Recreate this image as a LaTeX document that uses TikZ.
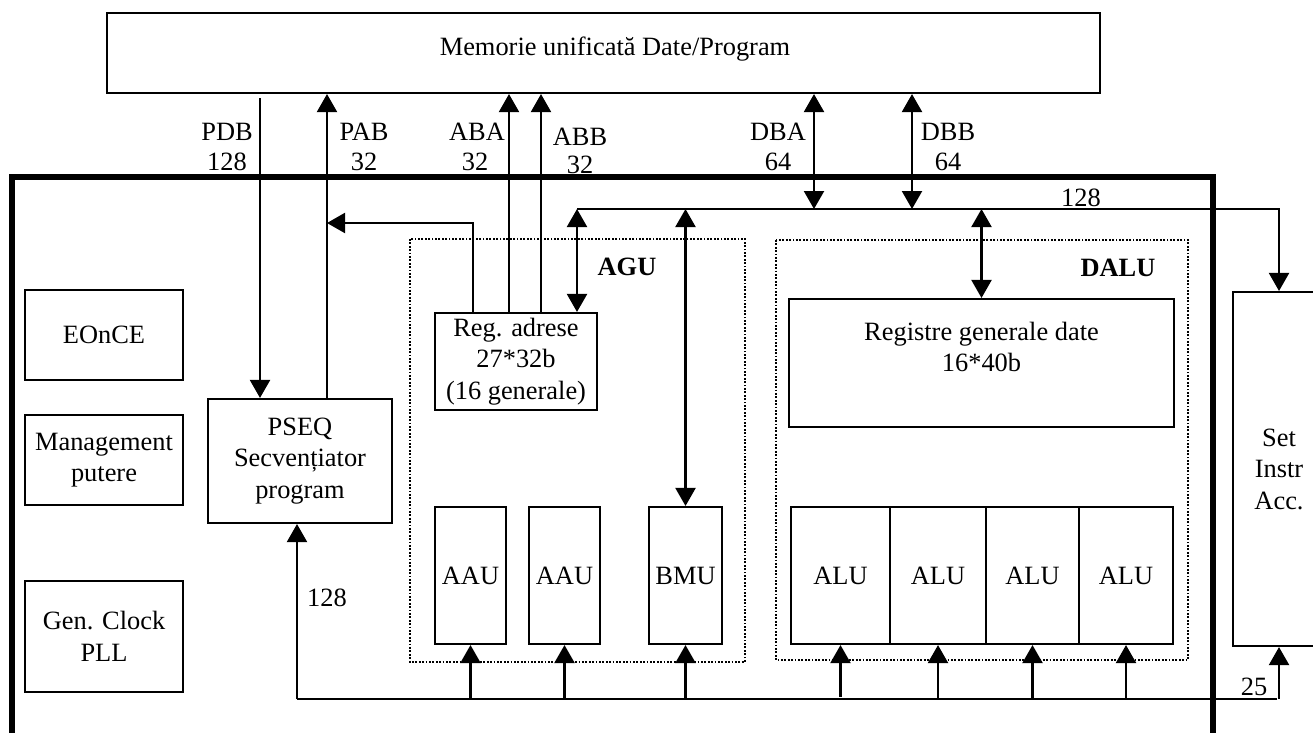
\documentclass[tikz,border=0pt]{standalone}
\usepackage{fontspec}
\setmainfont{Liberation Serif}
\usetikzlibrary{arrows.meta}
\begin{document}
\begin{tikzpicture}[x=1pt,y=-1pt,
  font=\fontsize{26.4}{31.5}\selectfont,
  ln/.style={line width=2.1pt},
  box/.style={draw,line width=2.1pt,inner sep=0pt,align=center},
  dotbox/.style={draw,line width=1.8pt,dash pattern=on 1.8pt off 1.6pt},
  tip/.tip={Triangle[width=20pt,length=18pt]},
  arr/.style={ln,-tip},
  darr/.style={ln,tip-tip},
  lbl/.style={inner sep=0pt},
  frame/.style={line width=6pt}
]
\useasboundingbox (0,0) rectangle (1313,732);

% memory
\node[box,minimum width=993pt,minimum height=80pt] (mem) at (603.5,53) {};
\node[lbl] (memtxt) at (615,49) {Memorie unificată Date/Program};

% thick frame
\draw[frame] (12,745) -- (12,177) -- (1213,177) -- (1213,745);

% left boxes
\node[box,minimum width=158pt,minimum height=90pt] (eonce) at (104,335) {EOnCE};
\node[box,minimum width=158pt,minimum height=90pt] (mgmt) at (104,460) {Management\\putere};
\node[box,minimum width=158pt,minimum height=111pt] (clk) at (104,636.5) {Gen. Clock\\PLL};

% PSEQ
\node[box,minimum width=184pt,minimum height=124pt] (pseq) at (300,461) {PSEQ\\Secvențiator\\program};

% AGU
\draw[dotbox] (410,239) rectangle (745,662);
\node[lbl,font=\fontsize{26.4}{31.5}\selectfont\bfseries] (agu) at (627,267) {AGU};
\node[box,minimum width=162pt,minimum height=97pt] (regadr) at (516,361.5) {Reg. adrese\\27*32b\\(16 generale)};
\node[box,minimum width=71pt,minimum height=137pt] (aau1) at (470.5,575.5) {AAU};
\node[box,minimum width=71pt,minimum height=137pt] (aau2) at (564.5,575.5) {AAU};
\node[box,minimum width=73pt,minimum height=137pt] (bmu) at (685.5,575.5) {BMU};

% DALU
\draw[dotbox] (776,240) rectangle (1188,660);
\node[lbl,font=\fontsize{26.4}{31.5}\selectfont\bfseries] (dalu) at (1118,268) {DALU};
\node[box,minimum width=385pt,minimum height=128pt] (regd) at (981.5,363) {};
\node[lbl,align=center] (regdtxt) at (981.5,347) {Registre generale date\\16*40b};
\node[box,minimum width=99pt,minimum height=137pt] (alu1) at (840.5,575.5) {ALU};
\node[box,minimum width=96pt,minimum height=137pt] (alu2) at (938,575.5) {ALU};
\node[box,minimum width=93pt,minimum height=137pt] (alu3) at (1032.5,575.5) {ALU};
\node[box,minimum width=94pt,minimum height=137pt] (alu4) at (1126,575.5) {ALU};

% Set instr
\node[box,minimum width=92pt,minimum height=354pt] (set) at (1279,469) {Set\\Instr\\Acc.};

% coordinates
\coordinate (xPDB) at (260,0);
\coordinate (xPAB) at (327,0);
\coordinate (xABA) at (509,0);
\coordinate (xABB) at (541,0);
\coordinate (xDBA) at (814,0);
\coordinate (xDBB) at (912,0);
\coordinate (turn) at (473,223);
\coordinate (tbL) at (577,209);
\coordinate (bbL) at (297,699);
\coordinate (bbR) at (1277,699);

% buses to memory
\draw[arr,shorten <=4pt] (mem.south -| xPDB) -- (pseq.north -| xPDB);
\draw[arr] (pseq.north -| xPAB) -- (mem.south -| xPAB);
\draw[arr] (regadr.north -| xABA) -- (mem.south -| xABA);
\draw[arr] (regadr.north -| xABB) -- (mem.south -| xABB);
\draw[arr] (regadr.north -| turn) -- (turn) -- (turn -| xPAB);
\draw[darr] (mem.south -| xDBA) -- (tbL -| xDBA);
\draw[darr] (mem.south -| xDBB) -- (tbL -| xDBB);

% internal data bus
\draw[arr] (tbL) -- (set.north |- tbL) -- (set.north);
\draw[darr] (tbL) -- (regadr.north -| tbL);
\draw[darr] (bmu.north |- tbL) -- (bmu.north);
\draw[darr] (regd.north |- tbL) -- (regd.north);

% bottom bus
\draw[ln] (bbL) -- (bbR);
\draw[arr] (bbL) -- (pseq.south -| bbL);
\draw[arr] (aau1.south |- bbL) -- (aau1.south);
\draw[arr] (aau2.south |- bbL) -- (aau2.south);
\draw[arr] (bmu.south |- bbL) -- (bmu.south);
\draw[arr,shorten <=2pt] (alu1.south |- bbL) -- (alu1.south);
\draw[arr] (alu2.south |- bbL) -- (alu2.south);
\draw[arr] (alu3.south |- bbL) -- (alu3.south);
\draw[arr] (alu4.south |- bbL) -- (alu4.south);
\draw[arr] (set.south |- bbL) -- (set.south);

% labels
\node[lbl] (lPDB) at (227,132) {PDB};
\node[lbl] (lPDBn) at (227,162) {128};
\node[lbl] (lPAB) at (364,132) {PAB};
\node[lbl] (lPABn) at (364,162) {32};
\node[lbl] (lABA) at (477,132) {ABA};
\node[lbl] (lABAn) at (475,162) {32};
\node[lbl] (lABB) at (580,137) {ABB};
\node[lbl] (lABBn) at (580,165) {32};
\node[lbl] (lDBA) at (778,132) {DBA};
\node[lbl] (lDBAn) at (778,162) {64};
\node[lbl] (lDBB) at (948,132) {DBB};
\node[lbl] (lDBBn) at (948,162) {64};
\node[lbl] (lbus) at (1081,198) {128};
\node[lbl] (lbot) at (327,598) {128};
\node[lbl] (l25) at (1254,687) {25};
\end{tikzpicture}
\end{document}
